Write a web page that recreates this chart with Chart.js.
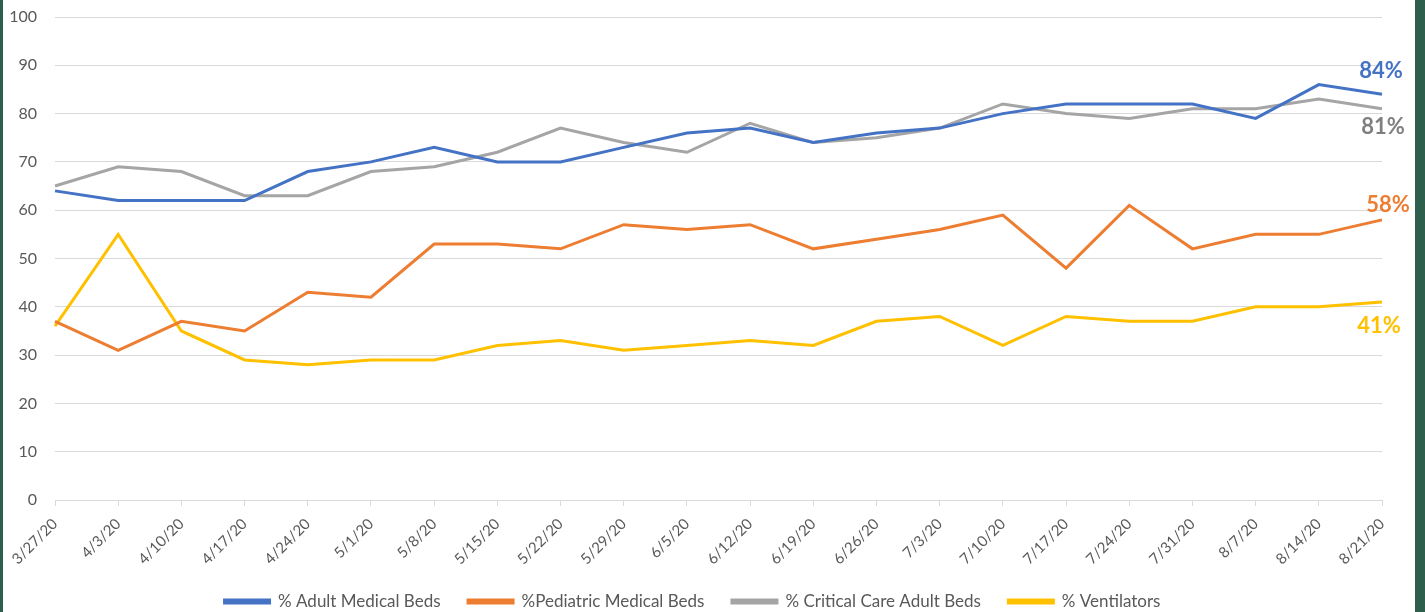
<!DOCTYPE html>
<html>
<head>
<meta charset="utf-8">
<script src="https://cdn.jsdelivr.net/npm/chart.js@4.4.1/dist/chart.umd.min.js"></script>
<style>
  html, body { margin: 0; padding: 0; background: #2e5e4c; }
  #frame { position: absolute; left: 3px; top: 0; width: 1412px; height: 612px; background: #ffffff; }
</style>
</head>
<body>
<div id="frame"><canvas id="chart" width="1412" height="612"></canvas></div>
<script>
// weekly capacity readings (percent in use)
const weeks = ['3/27/20', '4/3/20', '4/10/20', '4/17/20', '4/24/20', '5/1/20', '5/8/20', '5/15/20', '5/22/20', '5/29/20', '6/5/20',
    '6/12/20', '6/19/20', '6/26/20', '7/3/20', '7/10/20', '7/17/20', '7/24/20', '7/31/20', '8/7/20', '8/14/20', '8/21/20'];

const adultBeds = [64, 62, 62, 62, 68, 70, 73, 70, 70, 73, 76, 77, 74, 76, 77, 80, 82, 82, 82, 79, 86, 84];
const pediatricBeds = [37, 31, 37, 35, 43, 42, 53, 53, 52, 57, 56, 57, 52, 54, 56, 59, 48, 61, 52, 55, 55, 58];
const criticalCareBeds = [65, 69, 68, 63, 63, 68, 69, 72, 77, 74, 72, 78, 74, 75, 77, 82, 80, 79, 81, 81, 83, 81];
const ventilators = [36, 55, 35, 29, 28, 29, 29, 32, 33, 31, 32, 33, 32, 37, 38, 32, 38, 37, 37, 40, 40, 41];

const seriesNames = ['% Adult Medical Beds', '%Pediatric Medical Beds', '% Critical Care Adult Beds', '% Ventilators'];
const yTicks = [0, 10, 20, 30, 40, 50, 60, 70, 80, 90, 100];

const FONT = 'Lato, "Open Sans", sans-serif';
const TEXT = '#595959';

// end-of-line value labels, offset from the last point of each line (dataset order)
const endLabels = {
    id: 'endLabels',
    afterDatasetsDraw(chart) {
        const ctx = chart.ctx;
        const offsets = [[-1, -23], [6, -15], [1, 18], [-3, 24]];
        const colors = ['#4472c4', '#ed7d31', '#7f7f7f', '#ffc000'];
        ctx.save();
        ctx.font = 'bold 22px ' + FONT;
        ctx.textAlign = 'center';
        ctx.textBaseline = 'middle';
        chart.data.datasets.forEach((ds, i) => {
            const meta = chart.getDatasetMeta(i);
            const last = meta.data[meta.data.length - 1];
            const v = ds.data[ds.data.length - 1];
            ctx.fillStyle = colors[i];
            ctx.fillText(v + '%', last.x + offsets[i][0], last.y + offsets[i][1]);
        });
        ctx.restore();
    }
};

const mkSet = (label, data, color) => ({
    label, data, borderColor: color, backgroundColor: color,
    borderWidth: 3, pointRadius: 0, tension: 0, fill: false
});

new Chart(document.getElementById('chart').getContext('2d'), {
    type: 'line',
    data: {
        labels: weeks,
        datasets: [
            mkSet(seriesNames[0], adultBeds, '#4472c4'),
            mkSet(seriesNames[1], pediatricBeds, '#ed7d31'),
            mkSet(seriesNames[2], criticalCareBeds, '#a5a5a5'),
            mkSet(seriesNames[3], ventilators, '#ffc000')
        ]
    },
    options: {
        responsive: false, animation: false,
        layout: { padding: { top: 17, right: 33, left: 0, bottom: -8 } },
        scales: {
            x: {
                offset: false,
                grid: { display: true, drawOnChartArea: false, drawTicks: true, tickLength: 6, color: '#d9d9d9' },
                border: { display: true, color: '#d9d9d9', width: 1 },
                ticks: { color: TEXT, font: { family: FONT, size: 15 }, minRotation: 45, maxRotation: 45, autoSkip: false, padding: 9 },
                afterFit: s => { s.height = 91; }
            },
            y: {
                min: 0, max: 100,
                afterBuildTicks: s => { s.ticks = yTicks.map(v => ({ value: v })); },
                grid: { color: '#d9d9d9', drawTicks: false },
                border: { display: false },
                ticks: { color: TEXT, font: { family: FONT, size: 16 }, padding: 18 },
                afterFit: s => { s.width = 52; s.paddingTop = 0; s.paddingBottom = 0; }
            }
        },
        plugins: {
            legend: {
                position: 'bottom',
                labels: {
                    color: TEXT, font: { family: FONT, size: 17 }, boxWidth: 45, boxHeight: 3, padding: 2,
                    // trailing em spaces widen the gap between legend entries
                    generateLabels: chart => Chart.defaults.plugins.legend.labels.generateLabels(chart)
                        .map((l, i, all) => Object.assign(l, { text: i < all.length - 1 ? l.text + '\u2003\u2003' : l.text }))
                }
            },
            tooltip: { enabled: false }
        }
    },
    plugins: [endLabels]
});
</script>
</body>
</html>
